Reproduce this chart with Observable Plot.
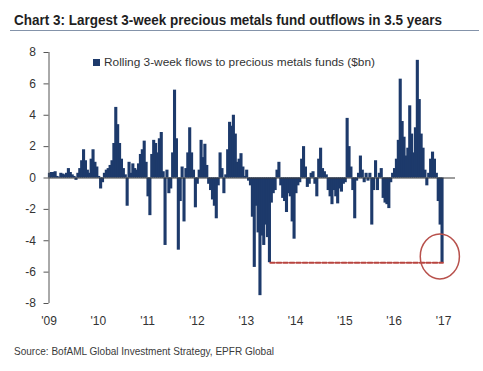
<!DOCTYPE html>
<html>
<head>
<meta charset="utf-8">
<script src="https://cdn.jsdelivr.net/npm/d3@7"></script>
<script src="https://cdn.jsdelivr.net/npm/@observablehq/plot@0.6"></script>
<style>
  html, body { margin: 0; padding: 0; background: #fff; }
  #page { position: relative; width: 483px; height: 371px; overflow: hidden; background: #fff; font-family: "Liberation Sans", Arial, sans-serif; }
  .txt { position: absolute; white-space: nowrap; line-height: 1; transform-origin: 0 0; }
  #title { left: 14px; top: 12.3px; font-size: 15px; font-weight: bold; color: #1f1f1f; }
  #rule { position: absolute; left: 10px; top: 30px; width: 469px; height: 1px; background: #8493aa; }
  #legendSwatch { position: absolute; left: 93px; top: 59px; width: 7px; height: 7px; background: #1d3a6b; }
  #legendText { left: 104px; top: 57.3px; font-size: 11.5px; color: #333; }
  #source { left: 14px; top: 346px; font-size: 10.5px; color: #3a3a3a; }
  #chart { position: absolute; left: 0; top: 40px; }
</style>
</head>
<body>
<div id="page">
  <div id="title" class="txt">Chart 3: Largest 3-week precious metals fund outflows in 3.5 years</div>
  <div id="rule"></div>
  <div id="chart"></div>
  <div id="legendSwatch"></div>
  <div id="legendText" class="txt">Rolling 3-week flows to precious metals funds ($bn)</div>
  <div id="source" class="txt">Source: BofAML Global Investment Strategy, EPFR Global</div>
</div>
<script>
// ---- Data: rolling 3-week flows ($bn), sampled every two weeks (26 values per year) ----
const years = [2009, 2010, 2011, 2012, 2013, 2014, 2015, 2016];
const flows2009 = [0.3,0.35,0.35,0.4,0.1,0.05,0.3,0.25,0.2,0.3,0.6,0.35,0.2,0.1,-0.15,0.3,0.6,1.1,1.8,1.1,0.5,0.3,1.2,1.8,1.0,0.7];
const flows2010 = [0.1,-0.7,-0.3,0.3,0.5,0.6,0.8,1.1,2.2,4.5,3.4,2.2,1.2,0.6,0.2,-1.8,1.0,0.3,0.9,0.6,0.5,0.9,1.5,1.8,2.35,1.0];
const flows2011 = [-1.2,-2.4,1.5,2.4,2.2,1.6,2.5,2.9,0.4,-4.3,0.5,-1.0,-0.7,1.6,5.6,2.5,-4.6,-1.5,0.7,-2.8,0.6,1.6,3.2,1.6,0.5,-1.9];
const flows2012 = [-0.4,0.5,2.4,1.3,2.15,0.8,-0.4,-0.8,-1.4,-1.8,-2.6,-0.5,1.6,0.6,-1.0,0.2,1.8,3.55,3.3,4.0,2.8,1.0,1.2,1.55,0.7,0.1];
const flows2013 = [0.5,-0.2,-0.5,-2.5,-5.7,-1.8,-3.5,-7.5,-3.7,-4.3,-3.0,-3.8,-5.4,-1.6,-1.0,-0.8,0.5,1.0,-0.5,-1.3,-1.5,-2.2,-1.0,-1.2,-2.8,-3.9];
const flows2014 = [-1.0,-0.5,-0.3,1.2,2.0,0.7,-0.6,-0.4,0.3,0.4,-0.4,-1.2,1.2,1.9,0.6,0.4,0.2,-0.8,-1.2,-1.7,-0.8,-1.2,-1.65,-0.7,-0.9,-0.4];
const flows2015 = [-0.3,3.8,2.0,0.7,-0.8,-2.6,-0.2,0.3,1.4,0.5,-0.3,0.3,-0.2,0.3,-3.0,-0.8,1.1,-0.8,0.3,0.6,-1.3,-1.6,-1.7,-1.95,-0.3,0.3];
const flows2016 = [0.6,1.2,2.4,6.3,3.6,2.6,1.4,1.9,4.6,2.8,1.6,3.2,7.5,5.0,2.8,1.9,0.5,-0.5,0.3,1.2,1.65,1.2,0.3,-1.5,-3.0,-5.4];
const flowsByYear = [flows2009, flows2010, flows2011, flows2012, flows2013, flows2014, flows2015, flows2016];

const yTicks = [-8, -6, -4, -2, 0, 2, 4, 6, 8];
const xTickYears = [2009, 2010, 2011, 2012, 2013, 2014, 2015, 2016, 2017];

// Annotation: dashed reference at the mid-2013 low, and circle around the latest print
const refDates = ["2013-06-28", "2016-12-28"];
const refLevel = -5.4;
const circleDate = "2016-12-05";
const circleLevel = -5.0;

// ---- Build tables ----
const fracToDate = f => {
  const y = Math.floor(f);
  const start = Date.UTC(y, 0, 1), end = Date.UTC(y + 1, 0, 1);
  return new Date(start + (f - y) * (end - start));
};
const bars = [];
years.forEach((yr, i) => {
  flowsByYear[i].forEach((v, k) => {
    bars.push({x1: fracToDate(yr + k / 26), x2: fracToDate(yr + (k + 1) / 26), value: v});
  });
});
const refLine = refDates.map(d => ({date: new Date(d), value: refLevel}));
const circle = [{date: new Date(circleDate), value: circleLevel}];
const xTicks = xTickYears.map(y => new Date(Date.UTC(y, 0, 1)));

const navy = "#1d3a6b";
const ellipseSymbol = {
  draw(ctx, size) {
    const r = Math.sqrt(size / Math.PI);
    const rx = r * 0.87, ry = r, k = 0.5523;
    ctx.moveTo(rx, 0);
    ctx.bezierCurveTo(rx, ry * k, rx * k, ry, 0, ry);
    ctx.bezierCurveTo(-rx * k, ry, -rx, ry * k, -rx, 0);
    ctx.bezierCurveTo(-rx, -ry * k, -rx * k, -ry, 0, -ry);
    ctx.bezierCurveTo(rx * k, -ry, rx, -ry * k, rx, 0);
    ctx.closePath();
  }
};

const chart = Plot.plot({
  width: 483,
  height: 300,
  marginLeft: 48.5,
  marginRight: 28,
  marginTop: 12,
  marginBottom: 37,
  x: {type: "utc", domain: [new Date(Date.UTC(2009, 0, 1)), new Date(Date.UTC(2017, 2, 31))]},
  y: {domain: [-8, 8]},
  style: {fontFamily: "'Liberation Sans', Arial, sans-serif", fontSize: "12px", color: "#333", background: "transparent"},
  marks: [
    Plot.rectY(bars, {x1: "x1", x2: "x2", y: "value", fill: navy, insetLeft: -0.6, insetRight: -0.6}),
    Plot.ruleY([0], {stroke: "#3a3a3a", strokeWidth: 1}),
    Plot.ruleX([xTicks[0]], {y1: -8, y2: 8, stroke: "#555"}),
    Plot.axisY({ticks: yTicks, tickSize: 5, tickPadding: 8, tickFormat: d => String(d), label: null, stroke: "#555"}),
    Plot.axisX({ticks: xTicks, tickSize: 0, tickPadding: 13, tickFormat: d => "'" + String(d.getUTCFullYear()).slice(2), label: null}),
    Plot.line(refLine, {x: "date", y: "value", stroke: "#b8443f", strokeWidth: 2, strokeDasharray: "4.5,2"}),
    Plot.dot(circle, {x: "date", y: "value", r: 22.5, symbol: ellipseSymbol, stroke: "#b8514c", strokeWidth: 1.5, fill: "none"})
  ]
});
document.getElementById("chart").appendChild(chart);

// Fit text blocks to the reference widths
function fit(id, target) {
  const el = document.getElementById(id);
  const w = el.getBoundingClientRect().width;
  if (w > 0) el.style.transform = "scaleX(" + (target / w) + ")";
}
fit("title", 428);
fit("legendText", 271);
fit("source", 260);
</script>
</body>
</html>
